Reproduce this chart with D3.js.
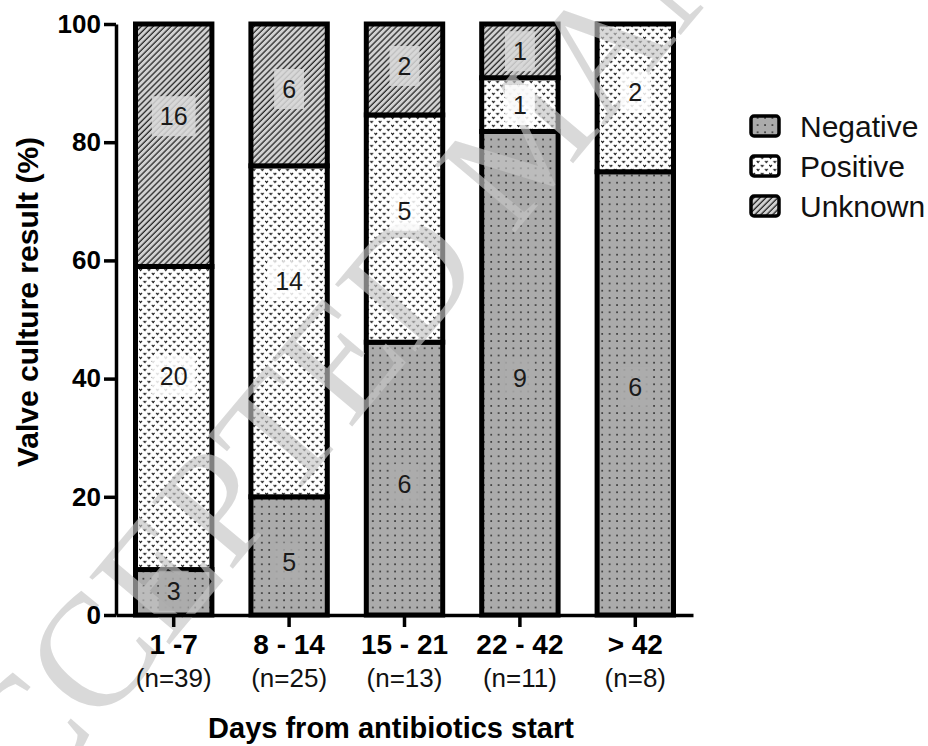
<!DOCTYPE html>
<html>
<head>
<meta charset="utf-8">
<script src="https://cdn.jsdelivr.net/npm/d3@7"></script>
<style>
  body { margin: 0; background: #fff; }
  svg { display: block; font-family: "Liberation Sans", Arial, sans-serif; }
</style>
</head>
<body>
<script>
// data (counts per bar)
const categories = ["1 -7", "8 - 14", "15 - 21", "22 - 42", "> 42"];
const nLabels = ["(n=39)", "(n=25)", "(n=13)", "(n=11)", "(n=8)"];
const seriesNames = ["Negative", "Positive", "Unknown"];
const negative = [3, 5, 6, 9, 6];
const positive = [20, 14, 5, 1, 2];
const unknown = [16, 6, 2, 1, 0];
const yTicks = [0, 20, 40, 60, 80, 100];
// where each count label sits, in % of the bar
const negLabelAt = [4.1, 8.9, 22.2, 40.1, 38.6];
const posLabelAt = [40.4, 56.5, 68.4, 86.3, 88.4];
const unkLabelAt = [84.4, 89, 92.9, 95.4, null];

const w = 928;
const h = 746;

const svg = d3.select("body")
    .append("svg")
    .attr("width", w)
    .attr("height", h);

//patterns for the three fills
const defs = svg.append("defs");

const negPat = defs.append("pattern")
    .attr("id", "pat-neg")
    .attr("patternUnits", "userSpaceOnUse")
    .attr("width", 7.4)
    .attr("height", 7.2);
negPat.append("rect").attr("width", 7.4).attr("height", 7.2).attr("fill", "#ababab");
negPat.append("rect").attr("x", 2).attr("y", 2).attr("width", 1.7).attr("height", 1.4).attr("fill", "#222");

const posPat = defs.append("pattern")
    .attr("id", "pat-pos")
    .attr("patternUnits", "userSpaceOnUse")
    .attr("width", 8.4)
    .attr("height", 8);
posPat.append("rect").attr("width", 8.4).attr("height", 8).attr("fill", "#fff");
posPat.append("path")
    .attr("d", "M0.7,0.9 L2,2.6 L3.3,0.9 M4.9,4.9 L6.2,6.6 L7.5,4.9")
    .attr("fill", "none")
    .attr("stroke", "#111")
    .attr("stroke-width", 1);

const unkPat = defs.append("pattern")
    .attr("id", "pat-unk")
    .attr("patternUnits", "userSpaceOnUse")
    .attr("width", 4.2)
    .attr("height", 4.2)
    .attr("patternTransform", "rotate(45)");
unkPat.append("rect").attr("width", 4.2).attr("height", 4.2).attr("fill", "#d2d2d2");
unkPat.append("line")
    .attr("x1", 1).attr("y1", 0).attr("x2", 1).attr("y2", 4.2)
    .attr("stroke", "#111")
    .attr("stroke-width", 1.15);

const fills = ["url(#pat-neg)", "url(#pat-pos)", "url(#pat-unk)"];
const boxFills = ["#ababab", "#ffffff", "#d9d9d9"];

//scales
const xScale = d3.scaleBand()
    .domain(categories)
    .range([116, 693])
    .paddingInner(0.338)
    .paddingOuter(0.169);

const yScale = d3.scaleLinear()
    .domain([0, 100])
    .range([615, 24]);

//stack as percentages of each bar
const rows = categories.map((c, i) => {
    const n = negative[i] + positive[i] + unknown[i];
    return {
        cat: c,
        Negative: negative[i] / n * 100,
        Positive: positive[i] / n * 100,
        Unknown: unknown[i] / n * 100,
        counts: [negative[i], positive[i], unknown[i]],
        labelAt: [negLabelAt[i], posLabelAt[i], unkLabelAt[i]]
    };
});
const stacked = d3.stack().keys(seriesNames)(rows);

//bars
stacked.forEach((layer, k) => {
    svg.append("g")
        .selectAll("rect")
        .data(layer.filter(d => d[1] - d[0] > 0))
        .enter()
        .append("rect")
        .attr("x", d => xScale(d.data.cat))
        .attr("y", d => yScale(d[1]))
        .attr("width", xScale.bandwidth())
        .attr("height", d => yScale(d[0]) - yScale(d[1]))
        .attr("fill", fills[k])
        .attr("stroke", "#000")
        .attr("stroke-width", 5);
});

//faint manuscript watermark over the bars
svg.append("text")
    .attr("transform", "translate(-45,900) rotate(-50)")
    .style("font-family", "'Liberation Serif', 'DejaVu Serif', serif")
    .style("font-size", "160px")
    .style("fill", "#c4c4c4")
    .style("fill-opacity", 0.65)
    .style("pointer-events", "none")
    .text("ACCEPTED MANUSCRIPT");

//count labels with a small plain box behind them
stacked.forEach((layer, k) => {
    layer.forEach(d => {
        const count = d.data.counts[k];
        if (!count) return;
        const cx = xScale(d.data.cat) + xScale.bandwidth() / 2;
        const cy = yScale(d.data.labelAt[k]);
        const g = svg.append("g");
        const box = g.append("rect");
        const t = g.append("text")
            .attr("x", cx)
            .attr("y", cy)
            .attr("dy", "0.35em")
            .attr("text-anchor", "middle")
            .style("font-size", "25px")
            .style("fill", "#1a1a1a")
            .text(count);
        const tw = t.node().getComputedTextLength();
        box.attr("x", cx - tw / 2 - 8)
            .attr("y", cy - 20)
            .attr("width", tw + 16)
            .attr("height", 40)
            .attr("fill", boxFills[k])
            .attr("fill-opacity", 0.85);
    });
});

//y axis
const yAxis = d3.axisLeft(yScale)
    .tickValues(yTicks)
    .tickSize(12)
    .tickSizeOuter(0)
    .tickPadding(3);

const gy = svg.append("g")
    .attr("transform", "translate(116,0)")
    .call(yAxis);
gy.select(".domain").attr("stroke-width", 3.5);
gy.selectAll(".tick line").attr("stroke-width", 3.5);
gy.selectAll(".tick text")
    .style("font-size", "26px")
    .style("font-weight", "bold")
    .style("fill", "#000");

//x axis
const xAxis = d3.axisBottom(xScale)
    .tickSize(12)
    .tickSizeOuter(0);

const gx = svg.append("g")
    .attr("transform", "translate(0,615)")
    .call(xAxis);
gx.select(".domain").attr("stroke-width", 3.5);
gx.selectAll(".tick line").attr("stroke-width", 3.5);
gx.selectAll(".tick text").remove();
gx.selectAll(".tick").each(function(d, i) {
    const tick = d3.select(this);
    tick.append("text")
        .attr("y", 39)
        .attr("text-anchor", "middle")
        .style("font-size", "28px")
        .style("font-weight", "bold")
        .style("fill", "#000")
        .text(d);
    tick.append("text")
        .attr("y", 72)
        .attr("text-anchor", "middle")
        .style("font-size", "26px")
        .style("fill", "#111")
        .text(nLabels[i]);
});

//axis titles
svg.append("text")
    .attr("transform", "translate(38,302) rotate(-90)")
    .attr("text-anchor", "middle")
    .style("font-size", "30px")
    .style("font-weight", "bold")
    .text("Valve culture result (%)");

svg.append("text")
    .attr("x", 391)
    .attr("y", 738)
    .attr("text-anchor", "middle")
    .style("font-size", "29px")
    .style("font-weight", "bold")
    .text("Days from antibiotics start");

//legend
const legend = svg.append("g").attr("id", "legend");
seriesNames.forEach((s, i) => {
    legend.append("rect")
        .attr("x", 751)
        .attr("y", 116 + i * 40)
        .attr("width", 28)
        .attr("height", 20)
        .attr("rx", 3)
        .attr("fill", fills[i])
        .attr("stroke", "#000")
        .attr("stroke-width", 3.5);
    legend.append("text")
        .attr("x", 800)
        .attr("y", 137 + i * 40)
        .style("font-size", "30px")
        .style("fill", "#111")
        .text(s);
});
</script>
</body>
</html>
